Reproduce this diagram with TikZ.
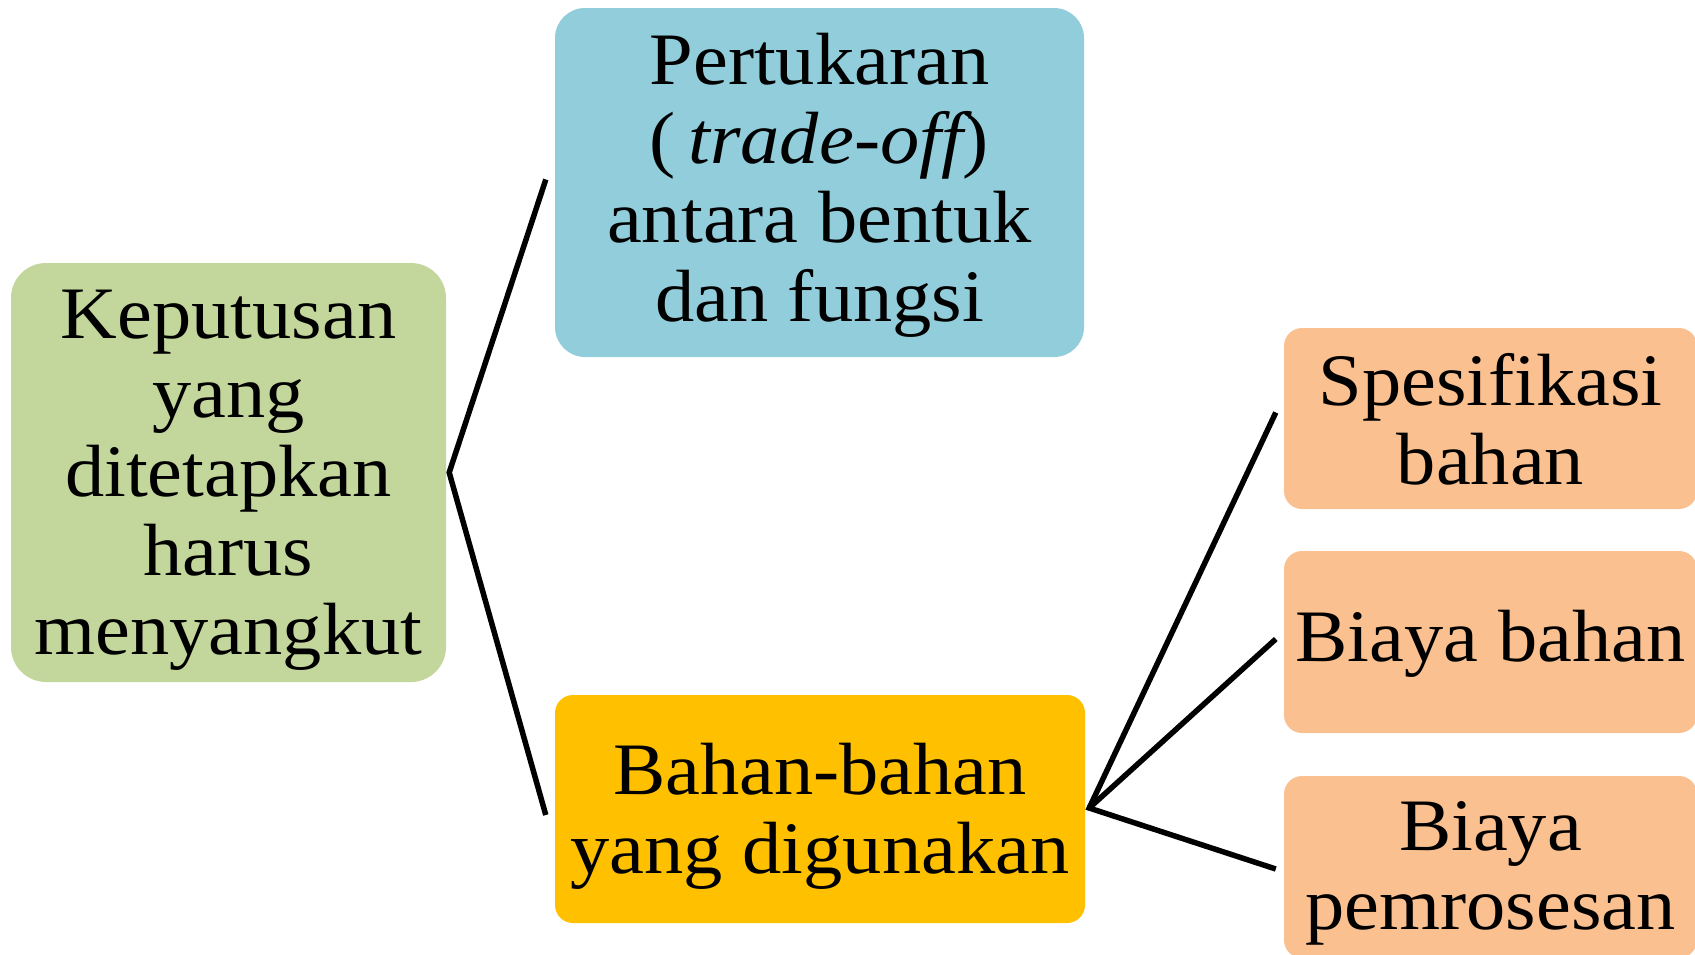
\documentclass[tikz,border=0pt]{standalone}
\usepackage{fontspec}
\setmainfont{Liberation Serif}[FakeStretch=1.06]
\definecolor{cgreen}{HTML}{C3D69B}
\definecolor{cblue}{HTML}{92CDDC}
\definecolor{cyellow}{HTML}{FFC000}
\definecolor{corange}{HTML}{FAC090}
\begin{document}
\begin{tikzpicture}[x=1pt,y=-1pt,
  boxbase/.style={inner sep=0pt},
  txt/.style={inner sep=0pt, align=center, font=\fontsize{74}{79}\selectfont},
  conn/.style={draw=black, line width=5.5pt, line join=miter}]
\useasboundingbox (0,0) rectangle (1695,954);
\clip (0,0) rectangle (1695,954);
\node[boxbase, fill=cgreen, rounded corners=35pt, minimum width=435pt, minimum height=419pt] (dec) at (228.5,472.5) {};
\node[boxbase, fill=cblue, rounded corners=30pt, minimum width=529pt, minimum height=349pt] (trade) at (819.5,182.5) {};
\node[boxbase, fill=cyellow, rounded corners=18pt, minimum width=530pt, minimum height=228pt] (mat) at (820,809) {};
\node[boxbase, fill=corange, rounded corners=18pt, minimum width=413pt, minimum height=181pt] (spec) at (1490.5,418.5) {};
\node[boxbase, fill=corange, rounded corners=18pt, minimum width=413pt, minimum height=182pt] (cost) at (1490.5,642) {};
\node[boxbase, fill=corange, rounded corners=18pt, minimum width=413pt, minimum height=182pt] (proc) at (1490.5,867) {};
\node[txt] (dect) at ([yshift=-8pt]dec.center) {Keputusan\\yang\\ditetapkan\\harus\\menyangkut};
\node[txt] (tradet) at ([yshift=-3pt]trade.center) {Pertukaran\\(\,{\itshape trade-off})\\antara bentuk\\dan fungsi};
\node[txt] (matt) at ([yshift=-7pt]mat.center) {Bahan-bahan\\yang digunakan};
\node[txt] (spect) at ([yshift=-1pt]spec.center) {Spesifikasi\\bahan};
\node[txt] (costt) at ([yshift=-2pt]cost.center) {Biaya bahan};
\node[txt] (proct) at ([yshift=-6pt]proc.center) {Biaya\\pemrosesan};
\coordinate (j1) at ([xshift=3pt]dec.east);
\coordinate (j2) at ([xshift=4pt,yshift=1pt]mat.east);
\draw[conn] ([xshift=-9pt,yshift=3pt]trade.west) -- (j1) -- ([xshift=-9pt,yshift=-6pt]mat.west);
\draw[conn] ([xshift=-8pt,yshift=6pt]spec.west) -- (j2) -- ([xshift=-8pt,yshift=-2pt]proc.west);
\draw[conn] (j2) -- ([xshift=-8pt,yshift=3pt]cost.west);
\end{tikzpicture}
\end{document}
